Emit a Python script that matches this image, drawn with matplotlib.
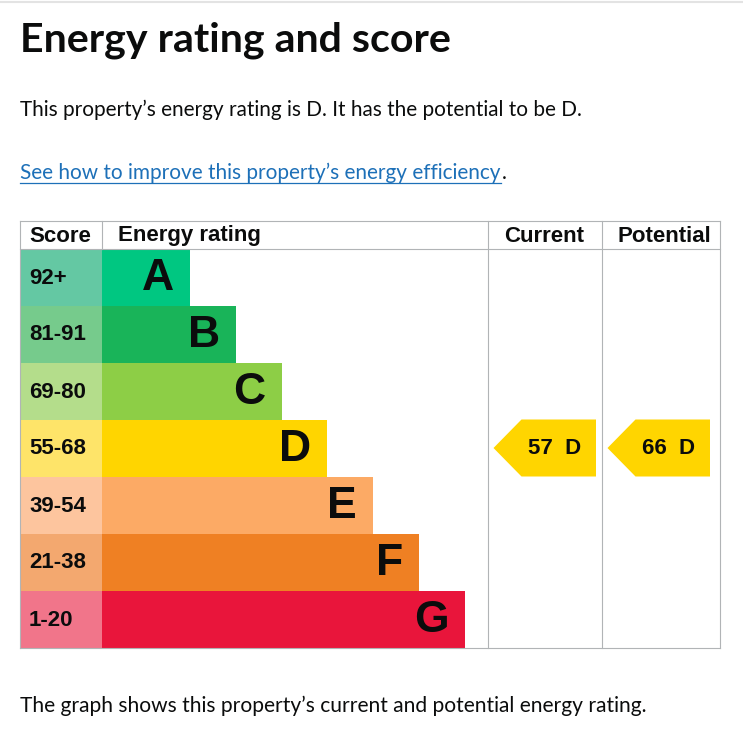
import matplotlib
matplotlib.use("Agg")
import matplotlib.pyplot as plt
from matplotlib.patches import Polygon

# energy bands, top (best) to bottom (worst)
bands = ["A", "B", "C", "D", "E", "F", "G"]
score_ranges = ["92+", "81-91", "69-80", "55-68", "39-54", "21-38", "1-20"]
band_colors = ["#00c781", "#19b459", "#8dce46", "#ffd500", "#fcaa65", "#ef8023", "#e9153b"]
score_colors = ["#64c8a3", "#76cb8c", "#b4dd8b", "#fee469", "#fdc59e", "#f3a86f", "#f1758a"]
columns = ["Score", "Energy rating", "Current", "Potential"]

current_score, current_band = 57, "D"
potential_score, potential_band = 66, "D"

title = "Energy rating and score"
summary = "This property\u2019s energy rating is D. It has the potential to be D."
link = "See how to improve this property\u2019s energy efficiency"
footer = "The graph shows this property\u2019s current and potential energy rating."

TEXT = "#0b0c0c"
LINK = "#1d70b8"
BORDER = "#b1b4b6"
BODY_FONT = ["Lato", "DejaVu Sans"]
TABLE_FONT = ["Liberation Sans", "DejaVu Sans"]

W, H = 743, 745
fig = plt.figure(figsize=(W / 100, H / 100), dpi=100)
ax = fig.add_axes([0, 0, 1, 1])
ax.set_xlim(0, W)
ax.set_ylim(H, 0)
ax.axis("off")
renderer = fig.canvas.get_renderer()


def fit_text(x, y, s, width, **kw):
    # scale font so the string spans the wanted pixel width
    t = ax.text(x, y, s, fontsize=20, **kw)
    w = t.get_window_extent(renderer).width
    t.set_fontsize(20 * width / w)
    return t


# thin grey rule at the very top
ax.plot([0, W], [1.5, 1.5], color="#e3e3e3", lw=1.5)

fit_text(20, 51.7, title, 431, family=BODY_FONT, fontweight="bold",
         color=TEXT, va="baseline")
fit_text(20, 116, summary, 563, family=BODY_FONT, color=TEXT, va="baseline")
lt = fit_text(20, 179.3, link, 483, family=BODY_FONT, color=LINK, va="baseline")
link_end = 20 + lt.get_window_extent(renderer).width
ax.plot([20, link_end], [182.5, 182.5], color=LINK, lw=0.9)
ax.text(link_end + 1, 179.3, ".", fontsize=lt.get_fontsize(), family=BODY_FONT,
        color=TEXT, va="baseline")
fit_text(20, 711.7, footer, 627, family=BODY_FONT, color=TEXT, va="baseline")

# table geometry
left, right = 20, 720.3
top, head_bot = 220.5, 248.5
row_h = 57
col_edges = [20, 102, 487.5, 601.5, 720.3]
bar_start = col_edges[1]
bar_step = 45.7
bottom = head_bot + row_h * len(bands)

centers = [head_bot + row_h * (i + 0.5) for i in range(len(bands))]
widths = [88.3 + bar_step * i for i in range(len(bands))]

ax.barh(centers, [col_edges[1] - col_edges[0]] * len(bands), height=row_h,
        left=col_edges[0], color=score_colors, linewidth=0)
ax.barh(centers, widths, height=row_h, left=bar_start,
        color=band_colors, linewidth=0)

for i, b in enumerate(bands):
    ax.text(29, centers[i] + 1, score_ranges[i], fontsize=16, fontweight="bold",
            family=TABLE_FONT, color=TEXT, va="center", ha="left")
    ax.text(bar_start + widths[i] - 16, centers[i] + 1.5, b, fontsize=32,
            fontweight="bold", family=TABLE_FONT, color=TEXT,
            va="center", ha="right")

# headers
head_mid = (top + head_bot) / 2 + 1.5
ax.text(29, head_mid, columns[0], fontsize=16, fontweight="bold",
        family=TABLE_FONT, color=TEXT, va="center", ha="left")
ax.text(117.5, head_mid, columns[1], fontsize=16, fontweight="bold",
        family=TABLE_FONT, color=TEXT, va="center", ha="left")
ax.text((col_edges[2] + col_edges[3]) / 2, head_mid, columns[2], fontsize=16,
        fontweight="bold", family=TABLE_FONT, color=TEXT, va="center", ha="center")
ax.text((col_edges[3] + col_edges[4]) / 2 + 3, head_mid, columns[3], fontsize=16,
        fontweight="bold", family=TABLE_FONT, color=TEXT, va="center", ha="center")

# table borders
lw = 0.8
ax.plot([left, right], [top, top], color=BORDER, lw=lw)
ax.plot([left, right], [head_bot, head_bot], color=BORDER, lw=lw)
ax.plot([left, right], [bottom, bottom], color=BORDER, lw=lw)
ax.plot([left, left], [top, bottom], color=BORDER, lw=lw)
ax.plot([col_edges[1], col_edges[1]], [top, head_bot], color=BORDER, lw=lw)
for xe in col_edges[2:]:
    ax.plot([xe, xe], [top, bottom], color=BORDER, lw=lw)


def rating_arrow(col_left, score, band):
    i = bands.index(band)
    y0 = head_bot + row_h * i
    y1 = y0 + row_h
    tip = col_left + 6
    body = col_left + 34
    end = col_left + 108.5
    pts = [(tip, (y0 + y1) / 2), (body, y0), (end, y0), (end, y1), (body, y1)]
    ax.add_patch(Polygon(pts, closed=True, color=band_colors[i], lw=0))
    ax.text((body + end) / 2 - 4, (y0 + y1) / 2 + 1, f"{score}  {band}",
            fontsize=16, fontweight="bold", family=TABLE_FONT, color=TEXT,
            va="center", ha="center")


rating_arrow(col_edges[2], current_score, current_band)
rating_arrow(col_edges[3], potential_score, potential_band)

fig.savefig("out.png", dpi=100)
